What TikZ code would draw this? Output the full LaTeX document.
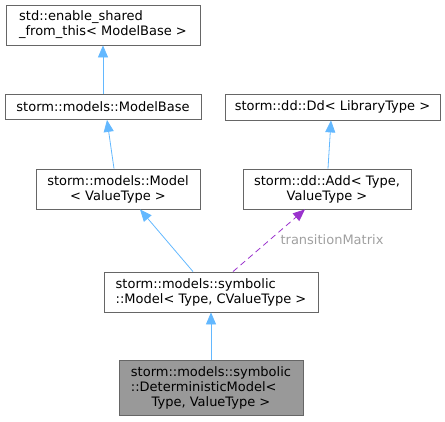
\documentclass[tikz,border=0pt]{standalone}
\usepackage{fontspec}
\setmainfont{DejaVu Sans}
\usetikzlibrary{shapes,arrows.meta,positioning}
\definecolor{edgeblue}{HTML}{63B8FF}
\definecolor{edgepurple}{HTML}{9A32CD}
\definecolor{boxgray}{HTML}{666666}
\definecolor{fillgray}{HTML}{999999}
\definecolor{labelgray}{HTML}{A0A0A0}

\begin{document}
\begin{tikzpicture}[x=1pt, y=-1pt, font=\fontsize{13}{15}\selectfont,
    cls/.style={draw=boxgray, line width=0.8pt, rectangle, inner sep=0pt, align=left},
    inherit/.style={edgeblue, line width=0.8pt, -{Triangle[length=12pt,width=10pt]}},
    usage/.style={edgepurple, line width=0.8pt, dash pattern=on 6pt off 4pt, -{Triangle[length=12pt,width=10pt]}}]
    \useasboundingbox (0,0) rectangle (445,421);

    % Nodes
    \node[cls, minimum width=194pt, minimum height=40pt] (sharedfrom) at (103,25) {std::enable\_shared\\\_from\_this< ModelBase >};
    \node[cls, minimum width=196pt, minimum height=25pt] (modelbase) at (103,107) {storm::models::ModelBase};
    \node[cls, align=center, minimum width=164pt, minimum height=40pt] (model) at (118,189) {storm::models::Model\\< ValueType >};
    \node[cls, minimum width=215pt, minimum height=26pt] (dd) at (332.5,107) {storm::dd::Dd< LibraryType >};
    \node[cls, align=center, minimum width=168pt, minimum height=40pt] (add) at (327,189) {storm::dd::Add< Type,\\ValueType >};
    \node[cls, minimum width=214pt, minimum height=40pt] (symmodel) at (211,292) {storm::models::symbolic\\::Model< Type, CValueType >};
    \node[cls, fill=fillgray, minimum width=184pt, minimum height=55pt] (detmodel) at (211,388)
        {\begin{tabular}{@{}l@{}}storm::models::symbolic\\::DeterministicModel<\\\multicolumn{1}{@{}c@{}}{Type, ValueType >}\end{tabular}};

    % Edges
    \draw[inherit] (modelbase.north) -- (sharedfrom.south);
    \draw[inherit] ([xshift=-4pt]model.north) -- ([xshift=4pt]modelbase.south);
    \draw[inherit] ([xshift=-18pt]symmodel.north) -- ([xshift=22pt]model.south);
    \draw[inherit] ([xshift=1pt]add.north) -- ([xshift=-1.5pt]dd.south);
    \draw[inherit] (detmodel.north) -- (symmodel.south);
    \draw[usage] ([xshift=22pt]symmodel.north) -- ([xshift=-22pt]add.south);

    % Labels
    \node[text=labelgray] (tmlabel) at (332,240) {transitionMatrix};
\end{tikzpicture}
\end{document}
